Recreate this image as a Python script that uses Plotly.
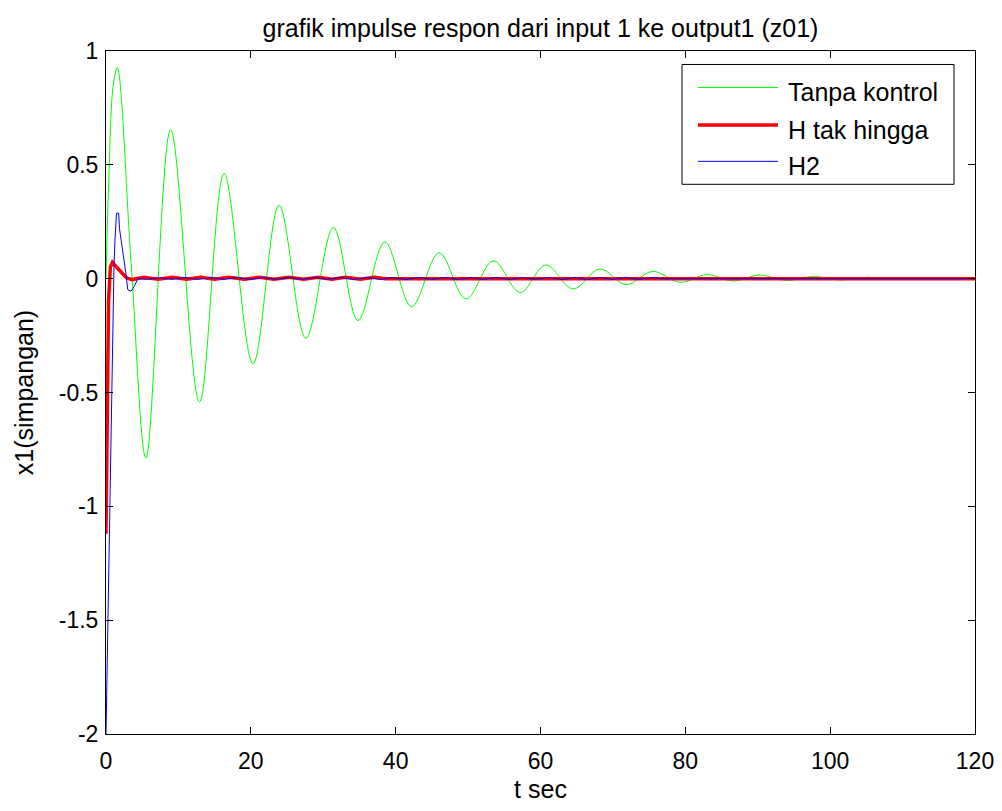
import plotly.graph_objects as go

# ---------------- data ----------------
t_green = [0, 0.4, 1.0, 1.56, 3.5, 5.52, 8.93, 12.9, 16.3, 20.3, 23.9, 27.6, 31.4, 34.8,
           38.5, 42.2, 46.0, 49.7, 53.5, 57.2, 60.7, 64.5, 68.2, 71.8, 75.5, 79.3,
           83.0, 86.6, 90.3, 94.0, 97.7, 101.4, 105.1, 108.8, 112.5, 116.2, 119.9, 120]
y_green = [0, 0.45, 0.85, 0.927, 0.05, -0.788, 0.655, -0.542, 0.462, -0.374, 0.323, -0.262,
           0.225, -0.184, 0.162, -0.123, 0.114, -0.089, 0.078, -0.061, 0.060, -0.045,
           0.043, -0.026, 0.032, -0.016, 0.018, -0.010, 0.016, -0.008, 0.010, -0.006,
           0.006, -0.004, 0.004, -0.003, 0.003, 0.003]

t_red = [0, 0.35, 0.6, 0.9, 1.47, 2.15, 2.85, 3.6, 5.2, 7.2, 9.2, 11.1, 13.1, 15.0,
         17.0, 19.1, 21.2, 23.2, 25.3, 27.3, 29.3, 31.2, 33.1, 35.1, 37.1, 38.6, 120]
y_red = [-1.12, -0.10, 0.05, 0.072, 0.050, 0.027, 0.003, -0.004, 0.006, -0.003, 0.006,
         -0.003, 0.006, -0.003, 0.006, -0.003, 0.006, -0.003, 0.006, -0.003, 0.006,
         -0.003, 0.006, -0.003, 0.006, 0.0, 0.0]

t_blue = [0, 0.5, 0.92, 1.1, 1.24, 1.45, 1.75, 1.86, 2.1, 2.4, 2.76, 3.0, 3.45, 3.9, 4.4,
          5.6, 7.4, 9.1, 10.9, 12.7, 14.5, 16.3, 18.1, 19.9, 21.7, 23.5, 25.3, 27.1,
          28.9, 30.6, 32.4, 34.2, 36.0, 37.8, 39.6, 41.4, 43.2, 45.0, 46.8, 48.6,
          50.4, 52.1, 53.9, 55.7, 57.5, 59.3, 61.1, 62.9, 64.7, 66.4, 68.2, 70.0,
          71.8, 73.6, 75.4, 77.2, 120]
y_blue = [-2.0, -1.0, -0.2, 0.05, 0.17, 0.288, 0.288, 0.22, 0.167, 0.108, 0.02, -0.048,
          -0.055, -0.034, 0.0, -0.003, 0.005, -0.003, 0.005, -0.003, 0.005, -0.003,
          0.005, -0.003, 0.005, -0.003, 0.005, -0.003, 0.005, -0.003, 0.005, -0.003,
          0.005, -0.003, 0.005, -0.003, 0.005, -0.003, 0.005, -0.003, 0.005, -0.003,
          0.005, -0.003, 0.005, -0.003, 0.005, -0.003, 0.005, -0.003, 0.005, -0.003,
          0.005, -0.003, 0.005, 0.0, 0.0]

series_names = ["Tanpa kontrol", "H tak hingga", "H2"]
series_colors = ["#00ff00", "#ff0000", "#0000ff"]
series_widths = [1, 3.5, 1]

x_ticks = [0, 20, 40, 60, 80, 100, 120]
y_ticks = [1, 0.5, 0, -0.5, -1, -1.5, -2]
y_ticklabels = ["1", "0.5", "0", "-0.5", "-1", "-1.5", "-2"]

title_text = "grafik impulse respon dari input 1 ke output1 (z01)"
x_title = "t sec"
y_title = "x1(simpangan)"

# ---------------- layout geometry (page pixels) ----------------
PAGE_W, PAGE_H = 1002, 811
OFF = 8                       # default body margin of the html page
W, H = PAGE_W - OFF, PAGE_H - 2 * OFF
L, R, T, B = 106, 975, 50.5, 734.5    # plot area on the page
FONT = "Liberation Sans, Arial, Helvetica, sans-serif"


def px(xp):
    return (xp - L) / (R - L)


def py(yp):
    return (B - yp) / (B - T)


fig = go.Figure()
fig.add_trace(go.Scatter(x=t_green, y=y_green, mode="lines", name=series_names[0],
                         line=dict(color=series_colors[0], width=series_widths[0], shape="spline",
                                   smoothing=1.0), showlegend=False))
fig.add_trace(go.Scatter(x=t_red, y=y_red, mode="lines", name=series_names[1],
                         line=dict(color=series_colors[1], width=series_widths[1]), showlegend=False))
fig.add_trace(go.Scatter(x=t_blue, y=y_blue, mode="lines", name=series_names[2],
                         line=dict(color=series_colors[2], width=series_widths[2]), showlegend=False))

axis_common = dict(showgrid=False, zeroline=False, showline=True, linecolor="black", linewidth=1,
                   mirror="ticks", ticks="inside", ticklen=7, tickcolor="black", tickwidth=1,
                   automargin=False,
                   tickfont=dict(family=FONT, size=23, color="black"))

fig.update_xaxes(range=[0, 120], tickmode="array", tickvals=x_ticks,
                 ticktext=[str(v) for v in x_ticks], ticklabelstandoff=6,
                 title=dict(text=x_title, font=dict(family=FONT, size=25, color="black"), standoff=8),
                 **axis_common)
fig.update_yaxes(range=[-2, 1], tickmode="array", tickvals=y_ticks, ticktext=y_ticklabels,
                 ticklabelstandoff=2,
                 title=dict(text=y_title, font=dict(family=FONT, size=25, color="black"), standoff=18),
                 **axis_common)

# legend drawn as a box with sample lines and labels
shapes = [dict(type="rect", xref="paper", yref="paper", x0=px(682), x1=px(954), y0=py(184),
               y1=py(64), line=dict(color="black", width=1), fillcolor="white", layer="above")]
annotations = []
rows = [87, 124.5, 161]
for name, col, wd, yr in zip(series_names, series_colors, series_widths, rows):
    shapes.append(dict(type="line", xref="paper", yref="paper", x0=px(698), x1=px(778),
                       y0=py(yr), y1=py(yr), line=dict(color=col, width=wd), layer="above"))
    annotations.append(dict(text=name, xref="paper", yref="paper", x=px(786), y=py(yr + 5),
                            xanchor="left", yanchor="middle", showarrow=False,
                            font=dict(family=FONT, size=25, color="black")))

fig.update_layout(
    width=W, height=H,
    margin=dict(l=L - OFF, r=PAGE_W - R, t=T - OFF, b=(OFF + H) - B),
    paper_bgcolor="white", plot_bgcolor="white",
    title=dict(text=title_text, x=px((L + R) / 2), xanchor="center", xref="paper",
               y=1 - (28 - OFF) / H, yanchor="middle",
               font=dict(family=FONT, size=25, color="black")),
    shapes=shapes, annotations=annotations, showlegend=False,
)

fig.write_html("out.html")
